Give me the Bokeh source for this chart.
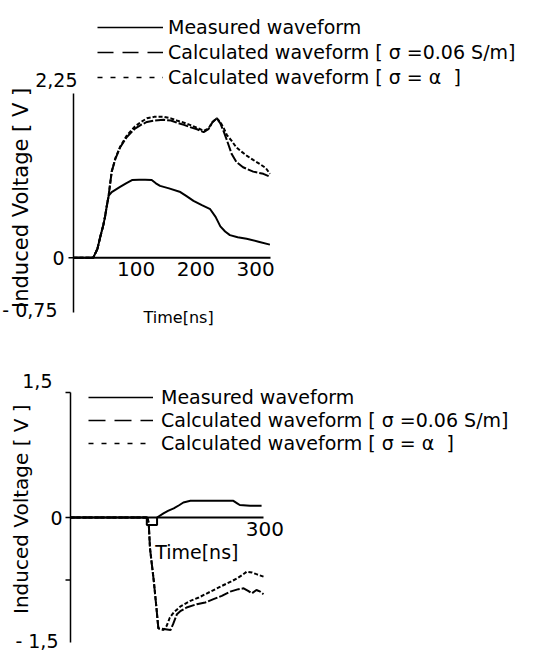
import math
from bokeh.plotting import figure
from bokeh.layouts import column
from bokeh.models import Label, Legend, LegendItem, Range1d
from bokeh.embed import file_html
from bokeh.resources import INLINE

FONT = "DejaVu Sans"

# ---------------- top panel data (time ns, voltage V) ----------------
top_meas_t = [0, 33, 40, 45, 50, 53, 56, 59, 64, 70, 78, 88, 98, 110, 120, 131, 138, 145, 160, 179,
              190, 201, 215, 229, 238, 246, 254, 262, 275, 290, 310, 329]
top_meas_v = [0, 0, 0.12, 0.29, 0.45, 0.57, 0.72, 0.85, 0.90, 0.93, 0.97, 1.02, 1.065, 1.07, 1.07,
              1.065, 1.02, 0.985, 0.95, 0.90, 0.84, 0.78, 0.72, 0.665, 0.56, 0.43, 0.36, 0.31, 0.28,
              0.26, 0.22, 0.18]

top_c006_t = [0, 33, 40, 45, 50, 53, 56, 59, 64, 70, 78, 89, 103, 113, 123, 135, 151, 163, 173, 185,
              195, 207, 218, 226, 233, 240, 246, 252, 257, 265, 273, 284, 301, 318, 329]
top_c006_v = [0, 0, 0.12, 0.29, 0.45, 0.57, 0.72, 0.86, 1.18, 1.35, 1.51, 1.65, 1.77, 1.82, 1.86,
              1.88, 1.89, 1.88, 1.85, 1.82, 1.79, 1.76, 1.72, 1.76, 1.86, 1.91, 1.84, 1.72, 1.61,
              1.42, 1.31, 1.24, 1.18, 1.15, 1.11]

top_cinf_t = [0, 33, 40, 45, 50, 53, 56, 59, 64, 70, 78, 89, 103, 113, 123, 135, 151, 163, 173, 185,
              195, 207, 218, 226, 233, 240, 246, 252, 257, 265, 273, 282, 290, 301, 313, 322, 329]
top_cinf_v = [0, 0, 0.12, 0.29, 0.45, 0.57, 0.72, 0.86, 1.18, 1.36, 1.52, 1.67, 1.80, 1.86, 1.91,
              1.93, 1.93, 1.91, 1.88, 1.85, 1.82, 1.78, 1.74, 1.77, 1.86, 1.91, 1.86, 1.77, 1.68,
              1.60, 1.51, 1.45, 1.40, 1.34, 1.28, 1.23, 1.15]

top_xlim = [0, 330]
top_ylim = [-0.75, 2.25]
top_xticks = [100, 200, 300]
top_xtick_labels = ["100", "200", "300"]
top_yticks = [0]
top_ytick_labels = ["0"]
top_ylim_labels = ["- 0,75", "2,25"]

# ---------------- bottom panel data ----------------
bot_meas_t = [0, 119, 119, 135, 135, 145, 152, 161, 170, 176, 187, 210, 235, 254, 260, 264, 280, 298]
bot_meas_v = [0, 0, -0.09, -0.09, 0, 0.05, 0.08, 0.11, 0.15, 0.18, 0.2, 0.2, 0.2, 0.2, 0.17, 0.15,
              0.14, 0.14]

bot_c006_t = [0, 120, 122, 124, 127, 130, 134, 137, 156, 160, 166, 172, 181, 197, 210, 223, 236, 249,
              262, 270, 277, 283, 290, 296, 301]
bot_c006_v = [0, 0, -0.07, -0.37, -0.57, -0.77, -1.08, -1.33, -1.35, -1.28, -1.16, -1.12, -1.08,
              -1.04, -1.02, -0.98, -0.94, -0.89, -0.86, -0.85, -0.88, -0.91, -0.87, -0.89, -0.92]

bot_cinf_t = [0, 120, 122, 124, 127, 130, 134, 137, 145, 150, 155, 161, 171, 180, 187, 200, 213, 226,
              239, 250, 260, 268, 275, 283, 290, 301]
bot_cinf_v = [0, 0, -0.07, -0.37, -0.57, -0.77, -1.08, -1.33, -1.35, -1.30, -1.20, -1.14, -1.07,
              -1.03, -1.00, -0.96, -0.91, -0.86, -0.81, -0.77, -0.73, -0.69, -0.65, -0.66, -0.68,
              -0.71]

bot_xlim = [0, 301]
bot_ylim = [-1.5, 1.5]
bot_xticks = [300]
bot_xtick_labels = ["300"]
bot_yticks = [1.5, 0, -0.75]
bot_ytick_labels = ["", "0", ""]
bot_ylim_labels = ["- 1,5", "1,5"]

legend_labels = ["Measured waveform",
                 "Calculated waveform [ \u03c3 =0.06 S/m]",
                 "Calculated waveform [ \u03c3 = \u03b1  ]"]

W = 535
NAN = float("nan")


def make_panel(H, box, xlim, ylim, meas, c006, cinf, xticks, xtick_labels, yticks, ytick_labels,
               ylim_labels, ylim_offsets, zero_xoff, time_pos, time_size, tick_size, tick_xoff,
               title_y, title_size, leg_loc, leg_glyph_w, leg_spacing, leg_standoff,
               dash_pat, dot_pat, leg_dash, leg_dot):
    left, right, top, bottom = box
    sx = (xlim[1] - xlim[0]) / (right - left)
    sy = (ylim[1] - ylim[0]) / (bottom - top)
    xr = Range1d(xlim[0] - left * sx, xlim[1] + (W - right) * sx)
    yr = Range1d(ylim[0] - (H - bottom) * sy, ylim[1] + top * sy)
    p = figure(width=W, height=H, x_range=xr, y_range=yr,
               x_axis_location=None, y_axis_location=None, output_backend="svg",
               toolbar_location=None, min_border=0)
    p.outline_line_color = None
    p.grid.grid_line_color = None
    p.background_fill_color = "white"
    p.border_fill_color = "white"

    # axes drawn at the data origin
    p.line([xlim[0], xlim[0]], ylim, line_color="black", line_width=1.5)
    p.line(xlim, [0, 0], line_color="black", line_width=2)
    p.ray(x=[xlim[0]] * len(yticks), y=yticks, length=5, length_units="screen", angle=math.pi,
          line_color="black", line_width=1.5)
    for yv, lab in zip(yticks, ytick_labels):
        if lab:
            p.add_layout(Label(x=xlim[0], y=yv, text=lab, text_align="right", text_baseline="middle",
                               x_offset=zero_xoff, text_font=FONT, text_font_size="19px",
                               text_color="black"))

    # curves
    p.line(meas[0], meas[1], line_color="black", line_width=2)
    p.line(c006[0], c006[1], line_color="black", line_width=2, line_dash=dash_pat)
    p.line(cinf[0], cinf[1], line_color="black", line_width=2, line_dash=dot_pat)

    # x tick labels
    for xv, lab in zip(xticks, xtick_labels):
        p.add_layout(Label(x=xv, y=0, text=lab, text_align="center", text_baseline="top",
                           y_offset=-4, x_offset=tick_xoff, text_font=FONT,
                           text_font_size=tick_size, text_color="black"))
    # y extreme labels
    for yv, lab, (xo, yo) in zip(ylim, ylim_labels, ylim_offsets):
        p.add_layout(Label(x=xlim[0], y=yv, text=lab, text_align="right", text_baseline="middle",
                           x_offset=xo, y_offset=yo, text_font=FONT, text_font_size="19px",
                           text_color="black"))
    # axis titles
    p.add_layout(Label(x=time_pos[0], y=time_pos[1], text="Time[ns]", text_align="center",
                       text_baseline="middle", text_font=FONT, text_font_size=time_size,
                       text_color="black"))
    p.add_layout(Label(x=20, x_units="screen", y=title_y, text="Induced Voltage [ V ]",
                       angle=math.pi / 2, text_align="center", text_baseline="middle",
                       text_font=FONT, text_font_size=title_size, text_color="black"))

    # legend (sample glyphs only; one NaN point so nothing shows in the plot)
    s1 = p.line([NAN], [NAN], line_color="black", line_width=1.3)
    s2 = p.line([NAN], [NAN], line_color="black", line_width=1.3, line_dash=leg_dash)
    s3 = p.line([NAN], [NAN], line_color="black", line_width=1.3, line_dash=leg_dot)
    legend = Legend(items=[LegendItem(label=legend_labels[0], renderers=[s1]),
                           LegendItem(label=legend_labels[1], renderers=[s2]),
                           LegendItem(label=legend_labels[2], renderers=[s3])],
                    location=leg_loc, orientation="vertical", glyph_width=leg_glyph_w,
                    glyph_height=22, label_height=22, spacing=leg_spacing, padding=0, margin=0,
                    border_line_color=None, background_fill_alpha=0, label_standoff=leg_standoff,
                    label_text_font=FONT, label_text_font_size="19px", label_text_color="black",
                    label_text_baseline="middle")
    p.add_layout(legend)
    return p


p1 = make_panel(340, (73, 270, 93, 312), top_xlim, top_ylim,
                (top_meas_t, top_meas_v), (top_c006_t, top_c006_v), (top_cinf_t, top_cinf_v),
                top_xticks, top_xtick_labels, top_yticks, top_ytick_labels,
                top_ylim_labels, [(-16, 3), (4, 14)], -9,
                (176, -0.82), "16px", "20px", 3, 0.82, "21px", (97, 252), 66, 3, 5,
                "10 2", "4 2", "16 9", "5 8")

p2 = make_panel(313, (70, 263, 52, 302), bot_xlim, bot_ylim,
                (bot_meas_t, bot_meas_v), (bot_c006_t, bot_c006_v), (bot_cinf_t, bot_cinf_v),
                bot_xticks, bot_xtick_labels, bot_yticks, bot_ytick_labels,
                bot_ylim_labels, [(-12, 2), (-18, 12)], -8,
                (197, -0.41), "19px", "20px", 2, 0.1, "20px", (88, 199), 65, 1, 8,
                "10 2", "4 2", "17 9", "5 8")

layout = column(p1, p2, spacing=0)
open("out.html", "w").write(file_html(layout, INLINE))
